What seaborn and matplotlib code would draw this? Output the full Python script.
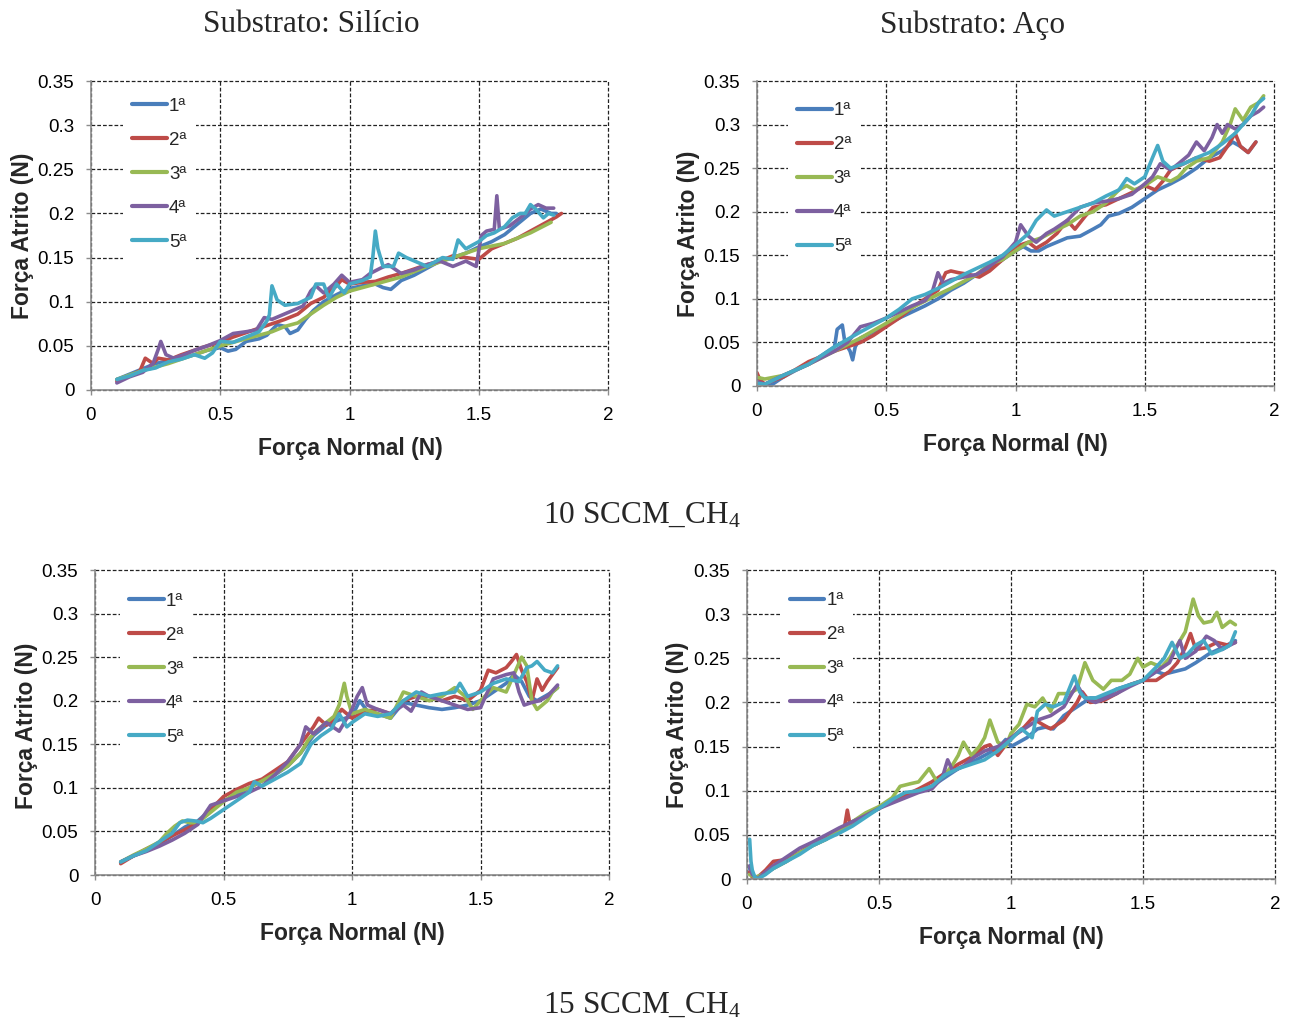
import matplotlib
matplotlib.use("Agg")
import matplotlib.pyplot as plt
import numpy as np
import pandas as pd
import seaborn as sns

# ---------------- data ----------------
RUNS = ["1ª", "2ª", "3ª", "4ª", "5ª"]
COLORS = ["#4A7EBB", "#BE4B48", "#98B954", "#7D60A0", "#46AAC5"]
X_TICKS = [0, 0.5, 1, 1.5, 2]
X_TICKLABELS = ["0", "0.5", "1", "1.5", "2"]
Y_TICKS = [0, 0.05, 0.1, 0.15, 0.2, 0.25, 0.3, 0.35]
Y_TICKLABELS = ["0", "0.05", "0.1", "0.15", "0.2", "0.25", "0.3", "0.35"]
TITLES = ["Substrato: Silício", "Substrato: Aço"]
CAPTIONS = ["10 SCCM_CH$_4$", "15 SCCM_CH$_4$"]
XLABEL = "Força Normal (N)"
YLABEL = "Força Atrito (N)"

# Silício, 10 SCCM
si10_x1 = [0.10,0.15,0.20,0.25,0.30,0.35,0.40,0.45,0.50,0.53,0.56,0.60,0.65,0.68,0.72,0.75,0.77,0.80,0.83,0.86,0.90,0.95,1.00,1.05,1.10,1.13,1.16,1.20,1.25,1.30,1.35,1.40,1.45,1.50,1.55,1.60,1.65,1.70,1.74,1.78,1.80]
si10_y1 = [0.012,0.018,0.024,0.030,0.033,0.036,0.040,0.045,0.048,0.044,0.046,0.055,0.058,0.062,0.074,0.072,0.064,0.068,0.080,0.090,0.100,0.108,0.115,0.118,0.120,0.116,0.114,0.124,0.130,0.138,0.146,0.150,0.155,0.162,0.168,0.176,0.188,0.200,0.205,0.200,0.200]
si10_x2 = [0.10,0.15,0.19,0.21,0.24,0.26,0.30,0.35,0.40,0.45,0.50,0.55,0.60,0.65,0.70,0.75,0.80,0.85,0.90,0.95,0.97,1.00,1.05,1.10,1.15,1.20,1.25,1.30,1.35,1.40,1.45,1.50,1.55,1.60,1.65,1.70,1.75,1.80,1.82]
si10_y2 = [0.010,0.016,0.022,0.036,0.030,0.036,0.034,0.040,0.045,0.050,0.054,0.060,0.065,0.070,0.075,0.080,0.086,0.098,0.105,0.118,0.125,0.120,0.122,0.123,0.128,0.132,0.137,0.142,0.146,0.152,0.150,0.148,0.160,0.166,0.172,0.180,0.188,0.196,0.200]
si10_x3 = [0.10,0.20,0.30,0.40,0.50,0.60,0.70,0.75,0.80,0.85,0.90,0.95,1.00,1.05,1.10,1.20,1.30,1.40,1.50,1.60,1.70,1.78]
si10_y3 = [0.012,0.022,0.030,0.040,0.050,0.058,0.066,0.072,0.076,0.086,0.096,0.105,0.112,0.116,0.120,0.128,0.140,0.150,0.160,0.166,0.178,0.190]
si10_x4 = [0.10,0.15,0.20,0.24,0.26,0.27,0.29,0.32,0.36,0.40,0.45,0.50,0.55,0.60,0.64,0.67,0.70,0.74,0.78,0.82,0.85,0.87,0.90,0.94,0.97,1.00,1.05,1.08,1.12,1.15,1.20,1.25,1.30,1.35,1.40,1.45,1.49,1.51,1.53,1.56,1.57,1.58,1.62,1.66,1.70,1.73,1.76,1.79]
si10_y4 = [0.008,0.015,0.020,0.030,0.046,0.055,0.040,0.036,0.040,0.045,0.050,0.056,0.064,0.066,0.068,0.082,0.080,0.085,0.090,0.095,0.112,0.118,0.110,0.120,0.130,0.122,0.125,0.132,0.138,0.142,0.132,0.136,0.142,0.146,0.140,0.146,0.140,0.175,0.180,0.182,0.220,0.182,0.186,0.195,0.205,0.210,0.206,0.206]
si10_x5 = [0.10,0.15,0.20,0.25,0.30,0.35,0.40,0.44,0.47,0.50,0.55,0.60,0.65,0.68,0.69,0.70,0.72,0.75,0.80,0.85,0.87,0.90,0.92,0.95,0.98,1.00,1.05,1.08,1.09,1.10,1.11,1.13,1.17,1.19,1.22,1.26,1.30,1.33,1.36,1.40,1.42,1.45,1.50,1.53,1.56,1.60,1.63,1.66,1.68,1.70,1.72,1.75,1.77,1.79]
si10_y5 = [0.012,0.016,0.022,0.025,0.032,0.035,0.040,0.036,0.042,0.055,0.054,0.060,0.066,0.078,0.085,0.118,0.102,0.096,0.098,0.105,0.120,0.120,0.104,0.120,0.110,0.120,0.124,0.128,0.150,0.180,0.160,0.140,0.140,0.155,0.150,0.145,0.140,0.145,0.150,0.148,0.170,0.160,0.168,0.175,0.178,0.185,0.195,0.200,0.200,0.210,0.205,0.195,0.200,0.198]

# Aço, 10 SCCM
aco10_x1 = [0.00,0.02,0.05,0.10,0.15,0.20,0.25,0.30,0.31,0.33,0.34,0.36,0.37,0.38,0.40,0.45,0.50,0.55,0.60,0.65,0.70,0.75,0.80,0.85,0.90,0.95,1.00,1.03,1.06,1.09,1.12,1.16,1.20,1.25,1.30,1.33,1.36,1.40,1.45,1.50,1.55,1.60,1.65,1.70,1.75,1.80,1.84,1.87,1.90,1.93]
aco10_y1 = [0.005,0.002,0.000,0.010,0.018,0.025,0.035,0.045,0.065,0.070,0.050,0.040,0.030,0.045,0.055,0.062,0.070,0.078,0.085,0.092,0.100,0.110,0.118,0.128,0.135,0.145,0.155,0.160,0.155,0.155,0.160,0.165,0.170,0.172,0.180,0.185,0.195,0.198,0.205,0.215,0.225,0.232,0.240,0.250,0.262,0.270,0.280,0.275,0.268,0.280]
aco10_x2 = [0.00,0.01,0.03,0.06,0.10,0.20,0.30,0.40,0.45,0.50,0.55,0.60,0.65,0.70,0.73,0.75,0.78,0.82,0.86,0.90,0.95,1.00,1.05,1.08,1.12,1.16,1.20,1.23,1.27,1.30,1.35,1.40,1.45,1.50,1.54,1.57,1.60,1.65,1.70,1.75,1.79,1.82,1.85,1.87,1.90,1.93]
aco10_y2 = [0.015,0.008,0.002,0.006,0.010,0.028,0.040,0.050,0.058,0.068,0.078,0.090,0.100,0.110,0.130,0.132,0.130,0.128,0.125,0.132,0.145,0.160,0.165,0.158,0.165,0.175,0.190,0.180,0.195,0.205,0.208,0.215,0.222,0.230,0.225,0.235,0.248,0.255,0.262,0.258,0.262,0.275,0.290,0.275,0.268,0.280]
aco10_x3 = [0.00,0.03,0.10,0.20,0.30,0.40,0.50,0.60,0.70,0.75,0.80,0.85,0.90,0.95,1.00,1.05,1.10,1.15,1.20,1.25,1.30,1.35,1.40,1.43,1.46,1.50,1.55,1.60,1.63,1.66,1.70,1.75,1.80,1.83,1.85,1.88,1.91,1.94,1.96]
aco10_y3 = [0.010,0.008,0.012,0.025,0.040,0.055,0.072,0.090,0.105,0.112,0.120,0.128,0.140,0.145,0.155,0.165,0.170,0.178,0.185,0.195,0.200,0.210,0.225,0.230,0.225,0.230,0.240,0.235,0.240,0.250,0.258,0.262,0.280,0.300,0.318,0.305,0.320,0.325,0.333]
aco10_x4 = [0.00,0.03,0.10,0.20,0.30,0.35,0.40,0.45,0.50,0.55,0.60,0.65,0.68,0.70,0.72,0.75,0.80,0.85,0.90,0.95,1.00,1.02,1.05,1.08,1.12,1.15,1.20,1.25,1.30,1.35,1.40,1.45,1.50,1.53,1.56,1.60,1.63,1.67,1.70,1.73,1.76,1.78,1.80,1.82,1.85,1.88,1.91,1.94,1.96]
aco10_y4 = [0.005,0.002,0.012,0.025,0.040,0.050,0.068,0.072,0.078,0.085,0.092,0.098,0.110,0.130,0.118,0.122,0.125,0.128,0.138,0.148,0.165,0.185,0.172,0.165,0.175,0.180,0.190,0.205,0.210,0.212,0.215,0.220,0.232,0.240,0.255,0.248,0.255,0.265,0.280,0.270,0.285,0.300,0.290,0.300,0.295,0.300,0.310,0.315,0.320]
aco10_x5 = [0.00,0.03,0.10,0.20,0.30,0.40,0.50,0.55,0.60,0.65,0.70,0.75,0.80,0.85,0.90,0.95,1.00,1.05,1.08,1.12,1.15,1.20,1.25,1.30,1.35,1.40,1.43,1.46,1.50,1.53,1.55,1.57,1.60,1.65,1.70,1.75,1.80,1.85,1.88,1.91,1.94,1.96]
aco10_y5 = [0.003,0.002,0.012,0.025,0.045,0.062,0.078,0.088,0.100,0.105,0.112,0.120,0.128,0.135,0.142,0.150,0.162,0.175,0.190,0.202,0.195,0.200,0.205,0.210,0.218,0.225,0.238,0.232,0.240,0.262,0.276,0.258,0.250,0.255,0.262,0.268,0.278,0.290,0.300,0.310,0.325,0.330]

# Silício, 15 SCCM
si15_x1 = [0.10,0.15,0.20,0.25,0.30,0.35,0.40,0.45,0.50,0.55,0.60,0.65,0.70,0.75,0.80,0.85,0.90,0.95,1.00,1.03,1.06,1.10,1.15,1.20,1.25,1.30,1.35,1.40,1.45,1.50,1.55,1.60,1.63,1.66,1.69,1.72,1.75,1.78,1.80]
si15_y1 = [0.015,0.022,0.028,0.036,0.045,0.055,0.062,0.075,0.085,0.092,0.100,0.108,0.115,0.125,0.140,0.160,0.172,0.178,0.182,0.200,0.188,0.185,0.180,0.198,0.195,0.192,0.190,0.192,0.195,0.200,0.210,0.220,0.230,0.222,0.205,0.200,0.205,0.210,0.215]
si15_x2 = [0.10,0.15,0.20,0.25,0.30,0.35,0.40,0.45,0.50,0.55,0.60,0.65,0.70,0.75,0.80,0.85,0.87,0.90,0.93,0.96,1.00,1.05,1.10,1.15,1.20,1.25,1.30,1.35,1.40,1.45,1.50,1.53,1.56,1.60,1.62,1.64,1.66,1.68,1.70,1.72,1.74,1.76,1.78,1.80]
si15_y2 = [0.013,0.022,0.030,0.037,0.045,0.052,0.060,0.075,0.090,0.098,0.105,0.110,0.120,0.130,0.150,0.170,0.180,0.172,0.178,0.190,0.180,0.188,0.190,0.185,0.200,0.205,0.205,0.200,0.205,0.200,0.212,0.235,0.232,0.238,0.245,0.253,0.235,0.222,0.200,0.225,0.212,0.222,0.230,0.238]
si15_x3 = [0.10,0.15,0.20,0.25,0.28,0.31,0.34,0.37,0.40,0.45,0.50,0.55,0.60,0.65,0.70,0.75,0.80,0.83,0.86,0.90,0.93,0.95,0.97,0.98,1.00,1.05,1.10,1.15,1.20,1.25,1.30,1.35,1.40,1.44,1.47,1.50,1.55,1.60,1.63,1.66,1.68,1.70,1.72,1.74,1.76,1.78,1.80]
si15_y3 = [0.015,0.023,0.030,0.038,0.048,0.056,0.062,0.060,0.060,0.072,0.084,0.095,0.100,0.108,0.116,0.125,0.140,0.155,0.165,0.175,0.182,0.195,0.220,0.205,0.185,0.190,0.185,0.180,0.210,0.205,0.200,0.205,0.215,0.205,0.190,0.200,0.215,0.210,0.230,0.250,0.240,0.200,0.190,0.195,0.200,0.210,0.215]
si15_x4 = [0.10,0.15,0.20,0.25,0.30,0.35,0.40,0.45,0.50,0.55,0.60,0.65,0.70,0.75,0.80,0.82,0.85,0.90,0.95,1.00,1.02,1.04,1.06,1.10,1.15,1.20,1.23,1.27,1.30,1.35,1.40,1.45,1.50,1.55,1.60,1.63,1.65,1.67,1.70,1.73,1.76,1.80]
si15_y4 = [0.015,0.022,0.027,0.033,0.040,0.048,0.058,0.080,0.085,0.090,0.095,0.102,0.115,0.130,0.150,0.170,0.162,0.175,0.165,0.190,0.205,0.215,0.195,0.190,0.185,0.195,0.188,0.210,0.205,0.200,0.195,0.190,0.192,0.225,0.230,0.232,0.210,0.195,0.198,0.200,0.205,0.218]
si15_x5 = [0.10,0.15,0.20,0.25,0.30,0.33,0.36,0.39,0.42,0.45,0.50,0.55,0.60,0.62,0.65,0.70,0.75,0.80,0.84,0.88,0.92,0.95,0.98,1.00,1.05,1.10,1.15,1.20,1.25,1.30,1.35,1.40,1.42,1.45,1.50,1.55,1.60,1.65,1.68,1.70,1.72,1.75,1.78,1.80]
si15_y5 = [0.015,0.022,0.028,0.038,0.048,0.060,0.063,0.062,0.060,0.065,0.075,0.085,0.095,0.107,0.102,0.110,0.118,0.128,0.150,0.160,0.168,0.185,0.170,0.175,0.185,0.182,0.185,0.200,0.210,0.205,0.208,0.210,0.220,0.205,0.210,0.220,0.225,0.222,0.238,0.240,0.245,0.235,0.232,0.240]

# Aço, 15 SCCM
aco15_x1 = [0.01,0.02,0.03,0.05,0.10,0.15,0.20,0.25,0.30,0.35,0.40,0.45,0.50,0.55,0.60,0.65,0.70,0.75,0.80,0.85,0.90,0.95,0.98,1.00,1.03,1.06,1.10,1.13,1.16,1.20,1.25,1.30,1.35,1.40,1.45,1.50,1.55,1.58,1.62,1.66,1.70,1.75,1.80,1.85]
aco15_y1 = [0.012,0.004,0.000,0.002,0.012,0.020,0.030,0.038,0.045,0.055,0.065,0.072,0.080,0.088,0.095,0.100,0.105,0.115,0.125,0.132,0.140,0.148,0.158,0.150,0.155,0.160,0.170,0.172,0.170,0.185,0.195,0.205,0.205,0.215,0.220,0.225,0.235,0.232,0.235,0.238,0.245,0.255,0.262,0.270]
aco15_x2 = [0.01,0.02,0.04,0.07,0.10,0.15,0.20,0.25,0.30,0.35,0.37,0.38,0.39,0.42,0.50,0.55,0.60,0.65,0.70,0.75,0.80,0.85,0.90,0.92,0.95,1.00,1.05,1.08,1.12,1.15,1.20,1.25,1.27,1.30,1.35,1.40,1.45,1.50,1.55,1.60,1.63,1.66,1.68,1.70,1.74,1.78,1.82,1.85]
aco15_y2 = [0.008,0.002,0.002,0.010,0.020,0.022,0.030,0.040,0.048,0.055,0.060,0.078,0.062,0.068,0.080,0.088,0.095,0.102,0.110,0.120,0.130,0.138,0.150,0.152,0.140,0.160,0.172,0.182,0.175,0.170,0.180,0.200,0.212,0.200,0.202,0.210,0.220,0.225,0.225,0.235,0.245,0.262,0.278,0.260,0.262,0.268,0.265,0.268]
aco15_x3 = [0.01,0.03,0.06,0.10,0.15,0.20,0.25,0.30,0.35,0.40,0.45,0.50,0.55,0.58,0.62,0.65,0.69,0.72,0.75,0.78,0.80,0.82,0.85,0.88,0.90,0.92,0.95,0.98,1.00,1.03,1.06,1.09,1.12,1.15,1.18,1.22,1.25,1.28,1.31,1.35,1.38,1.42,1.45,1.48,1.50,1.53,1.57,1.60,1.63,1.66,1.69,1.71,1.73,1.76,1.78,1.80,1.83,1.85]
aco15_y3 = [0.005,0.002,0.005,0.012,0.020,0.030,0.038,0.045,0.055,0.065,0.075,0.082,0.092,0.105,0.108,0.110,0.125,0.110,0.118,0.130,0.140,0.155,0.140,0.150,0.160,0.180,0.155,0.150,0.165,0.175,0.198,0.195,0.205,0.190,0.210,0.210,0.215,0.245,0.225,0.215,0.225,0.225,0.232,0.250,0.240,0.245,0.240,0.250,0.265,0.280,0.317,0.298,0.290,0.292,0.302,0.285,0.292,0.288]
aco15_x4 = [0.01,0.02,0.04,0.07,0.10,0.15,0.20,0.25,0.30,0.35,0.40,0.45,0.50,0.55,0.60,0.65,0.70,0.74,0.76,0.78,0.82,0.86,0.90,0.95,1.00,1.05,1.10,1.15,1.20,1.23,1.25,1.28,1.32,1.36,1.40,1.45,1.50,1.55,1.60,1.62,1.64,1.66,1.70,1.74,1.77,1.80,1.83,1.85]
aco15_y4 = [0.015,0.005,0.000,0.008,0.015,0.025,0.035,0.042,0.050,0.058,0.065,0.072,0.080,0.086,0.092,0.098,0.102,0.115,0.135,0.122,0.128,0.138,0.145,0.150,0.160,0.170,0.180,0.185,0.195,0.210,0.220,0.205,0.200,0.205,0.210,0.218,0.225,0.235,0.245,0.258,0.270,0.250,0.258,0.275,0.270,0.260,0.265,0.268]
aco15_x5 = [0.01,0.012,0.015,0.02,0.03,0.04,0.07,0.10,0.15,0.20,0.25,0.30,0.35,0.40,0.45,0.50,0.55,0.60,0.65,0.70,0.75,0.80,0.85,0.90,0.95,1.00,1.04,1.08,1.10,1.13,1.16,1.20,1.22,1.24,1.26,1.28,1.32,1.36,1.40,1.45,1.50,1.55,1.58,1.61,1.64,1.67,1.70,1.73,1.76,1.80,1.83,1.85]
aco15_y5 = [0.045,0.035,0.020,0.010,0.002,0.000,0.005,0.012,0.020,0.028,0.038,0.045,0.052,0.060,0.070,0.080,0.090,0.098,0.100,0.105,0.118,0.125,0.130,0.135,0.145,0.158,0.170,0.160,0.190,0.198,0.195,0.200,0.215,0.230,0.212,0.205,0.205,0.210,0.215,0.220,0.225,0.240,0.250,0.268,0.250,0.255,0.265,0.270,0.255,0.260,0.265,0.280]

PANEL_DATA = [
    [(si10_x1, si10_y1), (si10_x2, si10_y2), (si10_x3, si10_y3), (si10_x4, si10_y4), (si10_x5, si10_y5)],
    [(aco10_x1, aco10_y1), (aco10_x2, aco10_y2), (aco10_x3, aco10_y3), (aco10_x4, aco10_y4), (aco10_x5, aco10_y5)],
    [(si15_x1, si15_y1), (si15_x2, si15_y2), (si15_x3, si15_y3), (si15_x4, si15_y4), (si15_x5, si15_y5)],
    [(aco15_x1, aco15_y1), (aco15_x2, aco15_y2), (aco15_x3, aco15_y3), (aco15_x4, aco15_y4), (aco15_x5, aco15_y5)],
]

# ---------------- style / layout ----------------
sns.set_theme(style="white")
plt.rcParams["font.family"] = ["Liberation Sans", "DejaVu Sans"]
plt.rcParams["mathtext.fontset"] = "custom"
plt.rcParams["mathtext.rm"] = "Liberation Serif"
plt.rcParams["mathtext.it"] = "Liberation Serif:italic"

W, H = 1295, 1021
fig = plt.figure(figsize=(W / 100, H / 100), dpi=100)
fig.patch.set_facecolor("white")

# axes rectangles in pixels: left, top, right, bottom
RECTS_PX = [(91, 81, 608, 390), (757, 81, 1274, 386), (95, 570, 609, 875), (747, 570, 1275, 879)]
LEGEND_ANCHOR = [(0.061, 0.977), (0.059, 0.961), (0.048, 0.957), (0.063, 0.958)]
XLABEL_POS = [(0.501, -0.19), (0.499, -0.193), (0.5, -0.193), (0.5, -0.19)]
YLABEL_POS = [(-0.133, 0.50), (-0.133, 0.50), (-0.134, 0.49), (-0.132, 0.498)]

LABEL_FONT = dict(family=["Liberation Sans", "DejaVu Sans"], weight="bold", size=16.5)
TICK_FONT = dict(family=["Liberation Sans", "DejaVu Sans"], size=13.5)
SPINE_COLOR = "#8c8c8c"

for i, (l, t, r, b) in enumerate(RECTS_PX):
    ax = fig.add_axes([l / W, 1 - b / H, (r - l) / W, (b - t) / H])
    frames = []
    for k, (xs, ys) in enumerate(PANEL_DATA[i]):
        frames.append(pd.DataFrame({"Fn": xs, "Fa": ys, "Ensaio": RUNS[k]}))
    df = pd.concat(frames, ignore_index=True)
    sns.lineplot(data=df, x="Fn", y="Fa", hue="Ensaio", hue_order=RUNS,
                 palette=COLORS, estimator=None, sort=False, linewidth=2.6,
                 ax=ax, legend=True)

    ax.set_xlim(0, 2)
    ax.set_ylim(0, 0.35)
    ax.set_xticks(X_TICKS)
    ax.set_xticklabels(X_TICKLABELS, fontdict=TICK_FONT)
    ax.set_yticks(Y_TICKS)
    ax.set_yticklabels(Y_TICKLABELS, fontdict=TICK_FONT)
    ax.tick_params(axis="both", which="major", direction="out", length=3.5,
                   width=1, color=SPINE_COLOR, pad=8.5, labelcolor="black",
                   bottom=True, left=True)

    ax.grid(True, color="#222222", linestyle=(0, (3, 1.6)), linewidth=0.9)
    for gl in ax.get_xgridlines() + ax.get_ygridlines():
        gl.set_clip_on(False)
    for side in ["top", "right"]:
        ax.spines[side].set_visible(False)
    for side in ["left", "bottom"]:
        ax.spines[side].set_color(SPINE_COLOR)
        ax.spines[side].set_linewidth(1.2)
        ax.spines[side].set_zorder(3)
    ax.set_facecolor("white")

    ax.set_xlabel(XLABEL, fontdict=LABEL_FONT)
    ax.set_ylabel(YLABEL, fontdict=LABEL_FONT)
    ax.xaxis.set_label_coords(*XLABEL_POS[i])
    ax.yaxis.set_label_coords(*YLABEL_POS[i])
    ax.xaxis.label.set_va("center")
    ax.yaxis.label.set_va("center")

    handles, labels = ax.get_legend_handles_labels()
    leg = ax.legend(handles, labels, loc="upper left", bbox_to_anchor=LEGEND_ANCHOR[i],
                    borderaxespad=0, frameon=True, facecolor="white", edgecolor="none",
                    framealpha=1, fancybox=False, prop=dict(family="Liberation Sans", size=13.5),
                    handlelength=1.85, handletextpad=0.12, labelspacing=0.9, borderpad=0.5)
    for h in leg.get_lines():
        h.set_linewidth(3)

SERIF = dict(family=["Liberation Serif", "DejaVu Serif"], size=22.5)
fig.text(311 / W, 1 - 25 / H, TITLES[0], ha="center", va="center", **SERIF)
fig.text(972 / W, 1 - 25 / H, TITLES[1], ha="center", va="center", **SERIF)
fig.text(642 / W, 1 - 515 / H, CAPTIONS[0], ha="center", va="center", **SERIF)
fig.text(642 / W, 1 - 1005 / H, CAPTIONS[1], ha="center", va="center", **SERIF)

fig.savefig("out.png", dpi=100, facecolor="white")
